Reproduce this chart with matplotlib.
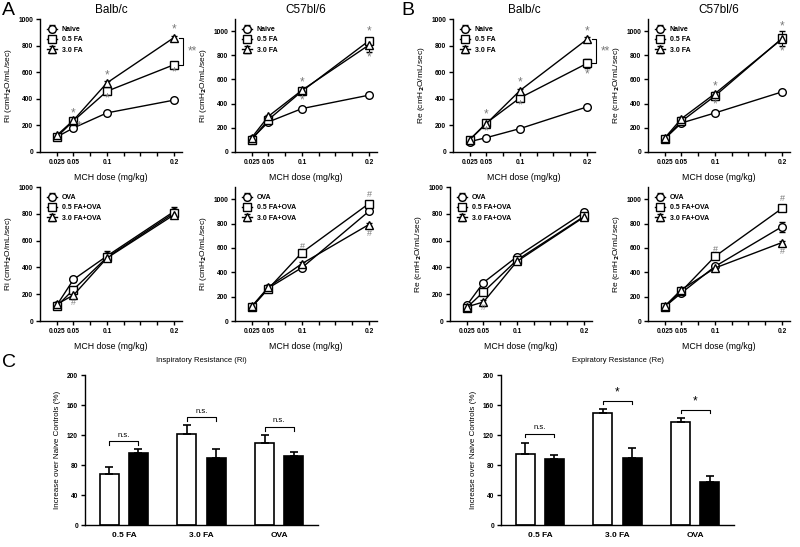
import numpy as np
import matplotlib.pyplot as plt

plt.rcParams['font.family'] = ['Liberation Sans', 'DejaVu Sans']
plt.rcParams['font.weight'] = 'bold'
plt.rcParams['axes.linewidth'] = 1.0
plt.rcParams['xtick.major.width'] = 1.0
plt.rcParams['ytick.major.width'] = 1.0

# dose axis
dose = [0.025, 0.05, 0.1, 0.2]
dose_ticks = [0.025, 0.05, 0.075, 0.1, 0.125, 0.15, 0.175, 0.2]
dose_labels = ['0.025', '0.05', '', '0.1', '', '', '', '0.2']

# A top: Ri, naive / FA
ri_balb_naive = [113, 181, 294, 390]
ri_balb_05 = [113, 234, 457, 656]
ri_balb_30 = [125, 239, 520, 860]
ri_c57_naive = [110, 249, 359, 470]
ri_c57_05 = [102, 268, 503, 920]
ri_c57_30 = [119, 296, 511, 885]
# B top: Re, naive / FA
re_balb_naive = [78, 108, 176, 339]
re_balb_05 = [93, 219, 407, 666]
re_balb_30 = [93, 214, 462, 847]
re_c57_naive = [110, 240, 323, 497]
re_c57_05 = [110, 254, 464, 939]
re_c57_30 = [116, 276, 483, 934]
# A bottom: Ri, OVA
ri_balb_ova = [117, 310, 485, 817]
ri_balb_05ova = [110, 235, 475, 805]
ri_balb_30ova = [125, 193, 470, 792]
ri_c57_ova = [115, 271, 438, 901]
ri_c57_05ova = [115, 266, 562, 964]
ri_c57_30ova = [120, 279, 471, 792]
# B bottom: Re, OVA
re_balb_ova = [117, 287, 480, 810]
re_balb_05ova = [100, 217, 455, 780]
re_balb_30ova = [105, 142, 445, 775]
re_c57_ova = [117, 231, 448, 774]
re_c57_05ova = [117, 245, 530, 924]
re_c57_30ova = [122, 258, 435, 644]

# error bars (SEM)
err_small = [8, 12, 15, 15]
ri_c57_30_err = [8, 12, 20, 60]
re_balb_05_err = [8, 12, 20, 35]
re_c57_05_err = [8, 12, 20, 65]
ri_balb_ova_err = [8, 20, 40, 35]
re_c57_ova_err = [8, 12, 15, 40]

# significance marks (dose, value, symbol)
ri_balb_sig = [(0.05, 290, '*'), (0.058, 195, '*'), (0.1, 578, '*'), (0.1, 405, '*'),
               (0.2, 920, '*'), (0.2, 595, '*')]
ri_c57_sig = [(0.1, 572, '*'), (0.1, 428, '*'), (0.2, 995, '*'), (0.2, 780, '*')]
re_balb_sig = [(0.05, 285, '*'), (0.05, 155, '*'), (0.1, 520, '*'), (0.1, 350, '*'),
               (0.2, 905, '*'), (0.2, 580, '*')]
re_c57_sig = [(0.1, 545, '*'), (0.1, 395, '*'), (0.2, 1040, '*'), (0.2, 830, '*')]
ri_balb_ova_sig = [(0.05, 140, '#')]
ri_c57_ova_sig = [(0.1, 615, '#'), (0.2, 1035, '#'), (0.2, 715, '#')]
re_balb_ova_sig = [(0.05, 98, '#')]
re_c57_ova_sig = [(0.1, 585, '#'), (0.2, 1005, '#'), (0.2, 570, '#')]

# C: bar data
groups = ['0.5 FA', '3.0 FA', 'OVA']
ri_white = [68, 122, 110]
ri_white_err = [10, 12, 10]
ri_black = [96, 89, 92]
ri_black_err = [5, 13, 5]
ri_labels = ['n.s.', 'n.s.', 'n.s.']
ri_bracket = [112, 144, 131]
re_white = [95, 150, 137]
re_white_err = [15, 5, 6]
re_black = [88, 90, 57]
re_black_err = [5, 13, 8]
re_labels = ['n.s.', '*', '*']
re_bracket = [122, 166, 154]

W, H = 800, 547
fig = plt.figure(figsize=(8, 5.47), dpi=100)
sig_color = '#7a7a7a'


def px_axes(x0, y_top, x1, y_bot):
    return fig.add_axes([x0 / W, 1 - y_bot / H, (x1 - x0) / W, (y_bot - y_top) / H])


def line_panel(x0, y_top, y_bot, series, names, ylabel, title, ymax, sig, errs=None):
    ax = px_axes(x0, y_top, x0 + 142, y_bot)
    markers = ['o', 's', '^']
    for k, (vals, nm) in enumerate(zip(series, names)):
        e = errs[k] if errs is not None else err_small
        ax.errorbar(dose, vals, yerr=e, color='black', lw=1.0, marker=markers[k],
                    ms=5.5, mfc='white', mec='black', mew=1.0, capsize=2, elinewidth=0.8,
                    label=nm)
    for (xd, yd, s) in sig:
        ax.text(xd, yd, s, color=sig_color, fontsize=8.5 if s == '*' else 6.5,
                ha='center', va='center', fontweight='normal')
    ax.set_xlim(0, 0.212)
    ax.set_ylim(0, ymax)
    ax.set_yticks([0, 200, 400, 600, 800, 1000])
    ax.set_xticks(dose_ticks)
    ax.set_xticklabels(dose_labels)
    ax.tick_params(labelsize=4.8, length=3, pad=2)
    for sp in ['top', 'right']:
        ax.spines[sp].set_visible(False)
    ax.set_ylabel(ylabel, fontsize=6, labelpad=3)
    ax.set_xlabel('MCH dose (mg/kg)', fontsize=6.3, labelpad=5)
    if title:
        ax.set_title(title, fontsize=8.5, fontweight='normal', pad=4)
    ax.legend(loc='upper left', fontsize=5, frameon=False, handlelength=1.5,
              handletextpad=0.6, labelspacing=0.5, borderaxespad=0.6)
    return ax


fa_names = ['Naive', '0.5 FA', '3.0 FA']
ova_names = ['OVA', '0.5 FA+OVA', '3.0 FA+OVA']
ri_lab = 'Ri (cmH$_2$O/mL/sec)'
re_lab = 'Re (cmH$_2$O/mL/sec)'

ax1 = line_panel(40, 19, 152, [ri_balb_naive, ri_balb_05, ri_balb_30], fa_names,
                 ri_lab, 'Balb/c', 1000, ri_balb_sig)
line_panel(235, 19, 152, [ri_c57_naive, ri_c57_05, ri_c57_30], fa_names,
           ri_lab, 'C57bl/6', 1100, ri_c57_sig, [err_small, err_small, ri_c57_30_err])
ax3 = line_panel(453, 19, 152, [re_balb_naive, re_balb_05, re_balb_30], fa_names,
                 re_lab, 'Balb/c', 1000, re_balb_sig, [err_small, re_balb_05_err, err_small])
line_panel(648, 19, 152, [re_c57_naive, re_c57_05, re_c57_30], fa_names,
           re_lab, 'C57bl/6', 1100, re_c57_sig, [err_small, re_c57_05_err, err_small])

line_panel(40, 187, 321, [ri_balb_ova, ri_balb_05ova, ri_balb_30ova], ova_names,
           ri_lab, None, 1000, ri_balb_ova_sig, [ri_balb_ova_err, err_small, err_small])
line_panel(235, 187, 321, [ri_c57_ova, ri_c57_05ova, ri_c57_30ova], ova_names,
           ri_lab, None, 1100, ri_c57_ova_sig)
line_panel(450, 187, 321, [re_balb_ova, re_balb_05ova, re_balb_30ova], ova_names,
           re_lab, None, 1000, re_balb_ova_sig)
line_panel(648, 187, 321, [re_c57_ova, re_c57_05ova, re_c57_30ova], ova_names,
           re_lab, None, 1100, re_c57_ova_sig, [re_c57_ova_err, err_small, err_small])

# ** brackets between 3.0 FA and 0.5 FA at the top dose
for ax, top, bot in [(ax1, ri_balb_30[3], ri_balb_05[3]), (ax3, re_balb_30[3], re_balb_05[3])]:
    xb = 0.2 + 0.014
    ax.plot([xb - 0.006, xb, xb, xb - 0.006], [top, top, bot, bot], color='black',
            lw=0.8, clip_on=False)
    ax.text(xb + 0.013, (top + bot) / 2, '**', color=sig_color, fontsize=8.5,
            ha='center', va='center', fontweight='normal')


def bar_panel(x0, title, white, white_err, black, black_err, labels, bracket):
    ax = px_axes(x0, 375, x0 + 233, 525)
    xs = np.arange(len(groups))
    off = 0.187
    bw = 0.245
    ax.bar(xs - off, white, bw, color='white', edgecolor='black', lw=1.2)
    ax.bar(xs + off, black, bw, color='black', edgecolor='black', lw=1.2)
    ax.errorbar(xs - off, white, yerr=[np.zeros(3), white_err], fmt='none',
                ecolor='black', elinewidth=1.2, capsize=3, capthick=1.2)
    ax.errorbar(xs + off, black, yerr=[np.zeros(3), black_err], fmt='none',
                ecolor='black', elinewidth=1.2, capsize=3, capthick=1.2)
    for i in range(len(groups)):
        yb = bracket[i]
        ax.plot([xs[i] - off, xs[i] - off, xs[i] + off, xs[i] + off],
                [yb - 5, yb, yb, yb - 5], color='black', lw=0.8)
        ax.text(xs[i], yb + 3, labels[i], ha='center', va='bottom',
                fontsize=5.5 if labels[i] == 'n.s.' else 8.5,
                fontweight='normal')
    ax.set_xlim(-0.5, 2.5)
    ax.set_ylim(0, 200)
    ax.set_yticks([0, 40, 80, 120, 160, 200])
    ax.set_xticks(xs)
    ax.set_xticklabels(groups)
    ax.tick_params(axis='y', labelsize=4.8, length=3, pad=2)
    ax.tick_params(axis='x', labelsize=6, length=0, pad=5)
    for sp in ['top', 'right']:
        ax.spines[sp].set_visible(False)
    ax.set_ylabel('Increase over Naive Controls (%)', fontsize=5.8, labelpad=4)
    ax.set_title(title, fontsize=5.5, pad=9)


bar_panel(85, 'Inspiratory Resistance (Ri)', ri_white, ri_white_err, ri_black,
          ri_black_err, ri_labels, ri_bracket)
bar_panel(501, 'Expiratory Resistance (Re)', re_white, re_white_err, re_black,
          re_black_err, re_labels, re_bracket)

fig.text(2 / W, 1 - 2 / H, 'A', fontsize=14, fontweight='normal', va='top')
fig.text(401 / W, 1 - 2 / H, 'B', fontsize=14, fontweight='normal', va='top')
fig.text(2 / W, 1 - 354 / H, 'C', fontsize=14, fontweight='normal', va='top')

fig.savefig('out.png', dpi=100)
